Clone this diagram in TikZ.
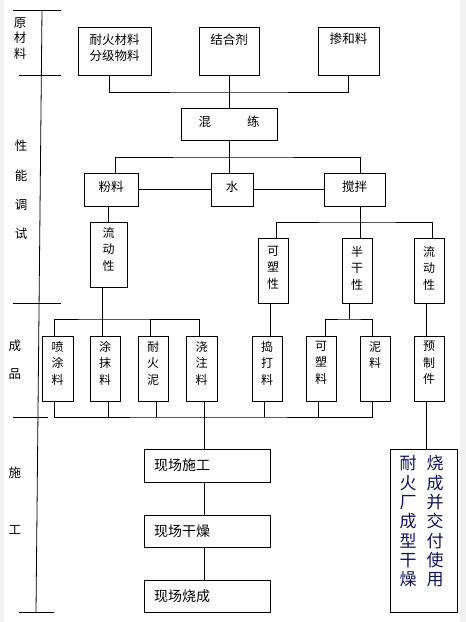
\documentclass[tikz,border=0pt]{standalone}
\usepackage{fontspec}
\setmainfont{Noto Sans CJK SC}
\usetikzlibrary{calc}
\tikzset{
  bx/.style={draw, line width=0.8pt, inner sep=0pt, outer sep=0pt},
  ln/.style={line width=0.8pt},
  t12/.style={font=\fontsize{12.5}{15.5}\selectfont, inner sep=0pt, align=center},
  vt/.style={font=\fontsize{12}{16.5}\selectfont, inner sep=0pt, align=center, anchor=north},
  t14/.style={font=\fontsize{14}{16}\selectfont, inner sep=0pt, anchor=west},
  facf/.style={font=\fontsize{17}{19.3}\selectfont, inner sep=0pt, align=center, anchor=north, text={rgb,255:red,15;green,20;blue,85}},
  side/.style={font=\fontsize{12.5}{15.5}\selectfont, inner sep=0pt, align=center, anchor=north},
}
\newcommand{\mkbox}[6]{\node[bx, minimum width={#4-#2}, minimum height={#5-#3}, #6] (#1) at ({(#2+#4)/2},{(#3+#5)/2}) {};}
\begin{document}
\begin{tikzpicture}[x=1pt,y=-1pt]
\useasboundingbox (0,0) rectangle (466,622);
\fill[gray!10] (0,0) rectangle (4,622);
\fill[gray!10] (460,0) rectangle (466,622);

% side axis
\draw[ln] (42,10) -- (36,612);
\draw[ln] (13,10) -- (61,10);
\draw[ln] (19,75) -- (61,75);
\draw[ln] (13,303) -- (61,303);
\draw[ln] (13,417) -- (48,417);
\draw[ln] (19,612) -- (54,612);
\node[side] (s1) at (20,17) {原\\材\\料};
\node[side, font=\fontsize{12.5}{29.3}\selectfont] (s2) at (21,140) {性\\能\\调\\试};
\node[side, font=\fontsize{12.5}{28}\selectfont] (s3) at (15,340) {成\\品};
\node[side, font=\fontsize{12.5}{57}\selectfont] (s4) at (15,467) {施\\工};

% boxes
\mkbox{rm1}{78}{27}{151}{75}{label={[t12,anchor=north,yshift=-7pt]north:耐火材料\\分级物料}}
\mkbox{rm2}{199}{27}{259}{75}{label={[t12,anchor=north,yshift=-7pt]north:结合剂}}
\mkbox{rm3}{318}{27}{379}{75}{label={[t12,anchor=north,yshift=-6pt]north:掺和料}}
\mkbox{mix}{181}{108}{277}{140}{label={[t12,yshift=2pt]center:混\hspace{36pt}练}}
\mkbox{powder}{84}{173}{138}{206}{label={[t12,yshift=3pt]center:粉料}}
\mkbox{water}{211}{173}{253}{206}{label={[t12,yshift=3pt]center:水}}
\mkbox{stir}{324}{173}{385}{206}{label={[t12,yshift=3pt]center:搅拌}}
\mkbox{flowL}{90}{222}{127}{287}{label={[vt,yshift=-5pt]north:流\\动\\性}}
\mkbox{plastic}{258}{238}{288}{303}{label={[vt,yshift=-8pt]north:可\\塑\\性}}
\mkbox{semidry}{342}{238}{372}{303}{label={[vt,yshift=-8pt]north:半\\干\\性}}
\mkbox{flowR}{414}{238}{444}{303}{label={[vt,yshift=-8pt]north:流\\动\\性}}
\mkbox{p1}{42}{336}{73}{401}{label={[vt,yshift=-5pt]north:喷\\涂\\料}}
\mkbox{p2}{90}{336}{120}{401}{label={[vt,yshift=-5pt]north:涂\\抹\\料}}
\mkbox{p3}{138}{336}{168}{401}{label={[vt,yshift=-5pt]north:耐\\火\\泥}}
\mkbox{p4}{186}{336}{217}{401}{label={[vt,yshift=-5pt]north:浇\\注\\料}}
\mkbox{p5}{252}{336}{282}{401}{label={[vt,yshift=-5pt]north:捣\\打\\料}}
\mkbox{p6}{306}{336}{336}{401}{label={[vt,yshift=-5pt]north:可\\塑\\料}}
\mkbox{p7}{360}{336}{390}{401}{label={[vt,yshift=-5pt]north:泥\\料}}
\mkbox{p8}{414}{336}{444}{401}{label={[vt,yshift=-5pt]north:预\\制\\件}}
\mkbox{c1}{144}{449}{270}{482}{label={[t14,xshift=10pt]west:现场施工}}
\mkbox{c2}{144}{515}{270}{547}{label={[t14,xshift=10pt]west:现场干燥}}
\mkbox{c3}{144}{580}{270}{612}{label={[t14,xshift=10pt]west:现场烧成}}
\mkbox{fac}{390}{449}{457}{612}{label={[facf,xshift=11.5pt,yshift=-6.5pt]north:烧\\成\\并\\交\\付\\使\\用},label={[facf,xshift=-15.5pt,yshift=-6.5pt]north:耐\\火\\厂\\成\\型\\干\\燥}}

% connectors
\coordinate (j1) at (229,92);
\draw[ln] ([xshift=-5.5pt]rm1.south) |- (j1) -| (rm3.south);
\draw[ln] (rm2.south) -- (mix.north);
\coordinate (j2) at (229,157);
\draw[ln] (mix.south) -- (mix.south |- water.north);
\draw[ln] ([xshift=4pt]powder.north) |- (j2) -| ([xshift=5.5pt]stir.north);
\draw[ln] (powder.east) -- (water.west);
\draw[ln] (water.east) -- (stir.west);
\draw[ln] (flowL.north |- powder.south) -- (flowL.north);
\coordinate (j3) at (102,319);
\draw[ln] ([xshift=-6.5pt]flowL.south) -- (j3);
\draw[ln] ([xshift=-3.5pt]p1.north) |- (j3) -| ([xshift=-2.5pt]p4.north);
\draw[ln] ([xshift=-3pt]p2.north) -- ([xshift=-3pt]p2.north |- j3);
\draw[ln] ([xshift=-3pt]p3.north) -- ([xshift=-3pt]p3.north |- j3);
\coordinate (j4) at (360,222);
\draw[ln] ([xshift=5.5pt]stir.south) -- ([xshift=3pt]semidry.north);
\draw[ln] ([xshift=3pt]plastic.north) |- (j4) -| ([xshift=3pt]flowR.north);
\draw[ln] ([xshift=-3pt]plastic.south) -- ([xshift=3pt]p5.north);
\coordinate (j5) at (349,319);
\draw[ln] ([xshift=-8pt]semidry.south) -- (j5);
\draw[ln] ([xshift=4pt]p6.north) |- (j5) -| ([xshift=-3pt]p7.north);
\draw[ln] ([xshift=-3pt]flowR.south) -- ([xshift=-3pt]p8.north);
\coordinate (j6) at (204,417);
\draw[ln] ([xshift=-3.5pt]p1.south) |- (j6) -| ([xshift=-3pt]p7.south);
\draw[ln] ([xshift=3pt]p2.south) -- ([xshift=3pt]p2.south |- j6);
\draw[ln] ([xshift=3pt]p3.south) -- ([xshift=3pt]p3.south |- j6);
\draw[ln] ([xshift=-3pt]p5.south) -- ([xshift=-3pt]p5.south |- j6);
\draw[ln] ([xshift=-3pt]p6.south) -- ([xshift=-3pt]p6.south |- j6);
\draw[ln] ([xshift=2.5pt]p4.south) -- ([xshift=-3pt]c1.north);
\draw[ln] ([xshift=-3pt]c1.south) -- ([xshift=-3pt]c2.north);
\draw[ln] ([xshift=-3pt]c2.south) -- ([xshift=-3pt]c3.north);
\draw[ln] ([xshift=-3pt]p8.south) -- ([xshift=2.5pt]fac.north);
\end{tikzpicture}
\end{document}
